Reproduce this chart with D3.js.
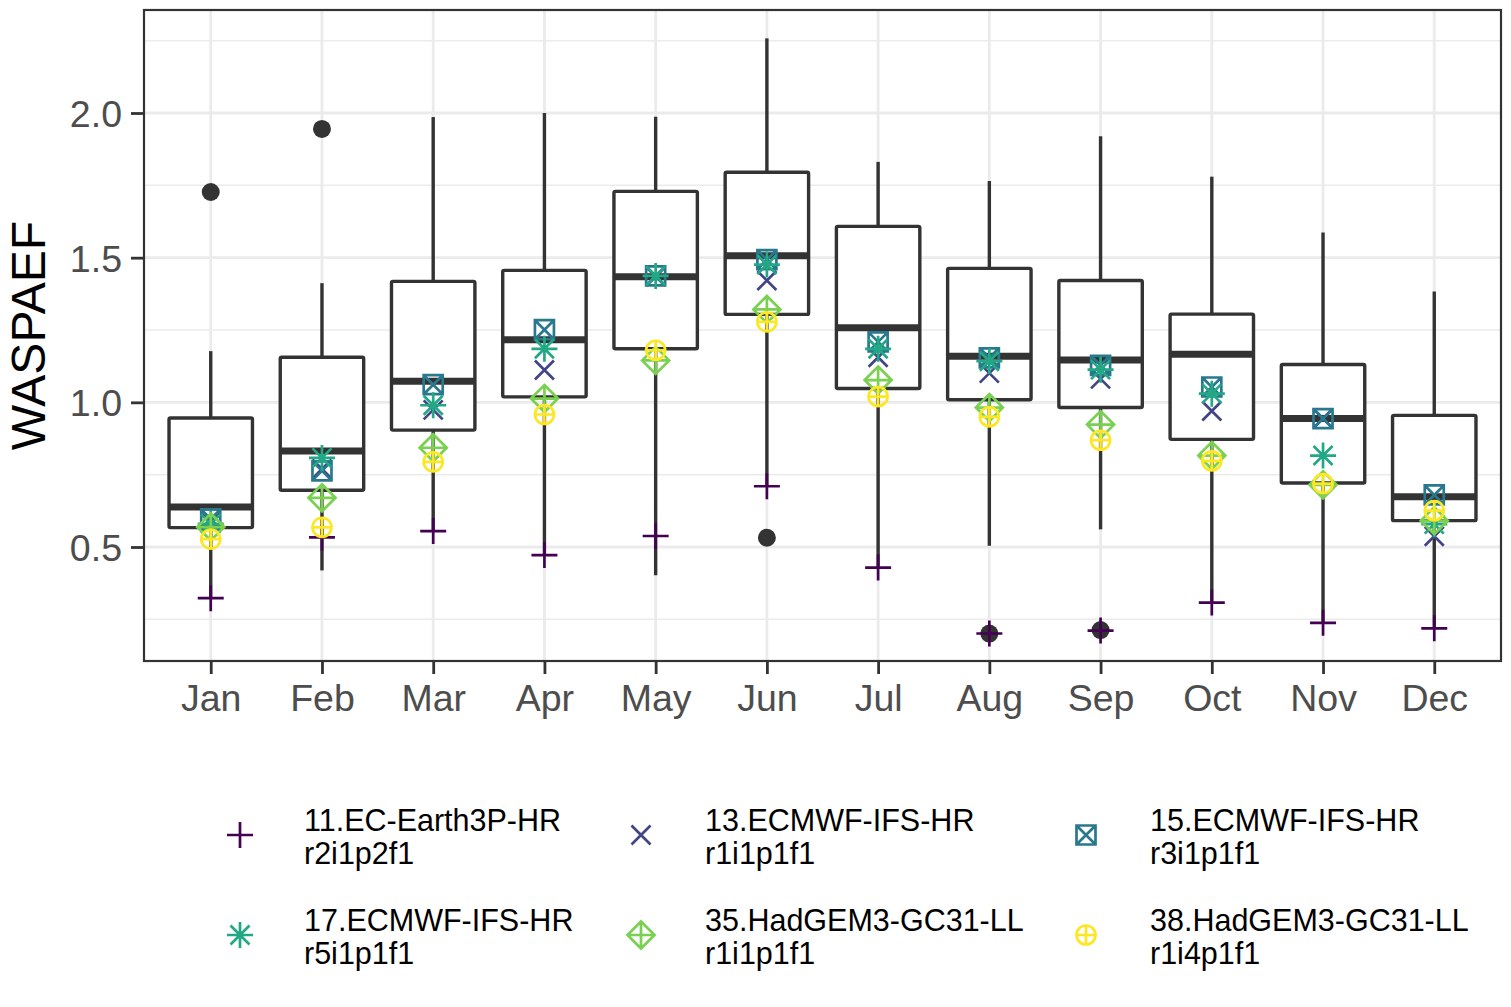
<!DOCTYPE html>
<html>
<head>
<meta charset="utf-8">
<script src="https://cdn.jsdelivr.net/npm/d3@7"></script>
<style>
  body { margin: 0; background: #fff; }
  text { font-family: "Liberation Sans", Arial, sans-serif; }
</style>
</head>
<body>
<div id="chart"></div>
<script>
// months on the x axis
const months = ['Jan', 'Feb', 'Mar', 'Apr', 'May', 'Jun', 'Jul', 'Aug', 'Sep', 'Oct', 'Nov', 'Dec'];

// boxplot statistics per month
const whiskerLow  = [0.323, 0.419, 0.555, 0.472, 0.402, 0.710, 0.429, 0.504, 0.561, 0.308, 0.238, 0.219];
const q1          = [0.567, 0.696, 0.904, 1.019, 1.185, 1.304, 1.048, 1.009, 0.982, 0.872, 0.721, 0.591];
const median      = [0.638, 0.832, 1.073, 1.216, 1.434, 1.507, 1.258, 1.159, 1.146, 1.166, 0.944, 0.674];
const q3          = [0.946, 1.156, 1.418, 1.456, 1.729, 1.795, 1.608, 1.463, 1.421, 1.305, 1.131, 0.955];
const whiskerHigh = [1.177, 1.412, 1.986, 2.000, 1.987, 2.258, 1.831, 1.765, 1.920, 1.780, 1.587, 1.383];

// outliers of the boxplot
const outlierMonths = ['Jan', 'Feb', 'Jun', 'Aug', 'Sep'];
const outlierValues = [1.727, 1.945, 0.532, 0.201, 0.213];

// model names (two lines) and values per month
const modelNames = [
  ['11.EC-Earth3P-HR', 'r2i1p2f1'],
  ['13.ECMWF-IFS-HR', 'r1i1p1f1'],
  ['15.ECMWF-IFS-HR', 'r3i1p1f1'],
  ['17.ECMWF-IFS-HR', 'r5i1p1f1'],
  ['35.HadGEM3-GC31-LL', 'r1i1p1f1'],
  ['38.HadGEM3-GC31-LL', 'r1i4p1f1']
];
const model11 = [0.323, 0.533, 0.555, 0.472, 0.538, 0.710, 0.429, 0.201, 0.211, 0.308, 0.238, 0.219];
const model13 = [0.585, 0.770, 0.974, 1.112, 1.435, 1.421, 1.156, 1.101, 1.081, 0.970, 0.944, 0.537];
const model15 = [0.597, 0.763, 1.061, 1.251, 1.437, 1.493, 1.209, 1.154, 1.128, 1.053, 0.944, 0.680];
const model17 = [0.580, 0.808, 0.990, 1.185, 1.437, 1.476, 1.185, 1.142, 1.113, 1.030, 0.816, 0.579];
const model35 = [0.569, 0.670, 0.843, 1.013, 1.145, 1.321, 1.077, 0.982, 0.923, 0.816, 0.715, 0.591];
const model38 = [0.527, 0.568, 0.794, 0.958, 1.180, 1.278, 1.020, 0.950, 0.869, 0.798, 0.719, 0.626];
const modelValues = [model11, model13, model15, model17, model35, model38];

const modelColors = ['#440154', '#414487', '#2A788E', '#22A884', '#7AD151', '#FDE725'];
const modelShapes = ['plus', 'cross', 'squareCross', 'asterisk', 'diamondPlus', 'circlePlus'];

const yTicks = [0.5, 1.0, 1.5, 2.0];
const yMinor = [0.25, 0.75, 1.25, 1.75, 2.25];

const width = 1511, height = 1007;
const margin = { top: 10, right: 10, bottom: 346, left: 144 };
const panelW = width - margin.left - margin.right;
const panelH = height - margin.top - margin.bottom;
const ink = '#333333';

const svg = d3.select('#chart').append('svg')
  .attr('width', width)
  .attr('height', height)
  .style('display', 'block');

svg.append('rect').attr('width', width).attr('height', height).attr('fill', '#fff');

const g = svg.append('g').attr('transform', `translate(${margin.left},${margin.top})`);

const xScale = d3.scalePoint().domain(months).range([0, panelW]).padding(0.6);
const yScale = d3.scaleLinear().domain([0.106, 2.356]).range([panelH, 0]);
const step = xScale.step();
const boxW = step * 0.75;

// grid
g.selectAll('.minor').data(yMinor).join('line')
  .attr('x1', 0).attr('x2', panelW)
  .attr('y1', d => yScale(d)).attr('y2', d => yScale(d))
  .attr('stroke', '#EBEBEB').attr('stroke-width', 1.5);
g.selectAll('.major').data(yTicks).join('line')
  .attr('x1', 0).attr('x2', panelW)
  .attr('y1', d => yScale(d)).attr('y2', d => yScale(d))
  .attr('stroke', '#EBEBEB').attr('stroke-width', 2.8);
g.selectAll('.vgrid').data(months).join('line')
  .attr('x1', d => xScale(d)).attr('x2', d => xScale(d))
  .attr('y1', 0).attr('y2', panelH)
  .attr('stroke', '#EBEBEB').attr('stroke-width', 2.8);

// boxplots
const boxes = g.selectAll('.box').data(months).join('g').attr('class', 'box');
boxes.append('line')
  .attr('x1', d => xScale(d)).attr('x2', d => xScale(d))
  .attr('y1', (d, i) => yScale(q3[i])).attr('y2', (d, i) => yScale(whiskerHigh[i]))
  .attr('stroke', ink).attr('stroke-width', 3.4);
boxes.append('line')
  .attr('x1', d => xScale(d)).attr('x2', d => xScale(d))
  .attr('y1', (d, i) => yScale(q1[i])).attr('y2', (d, i) => yScale(whiskerLow[i]))
  .attr('stroke', ink).attr('stroke-width', 3.4);
boxes.append('rect')
  .attr('x', d => xScale(d) - boxW / 2)
  .attr('width', boxW)
  .attr('y', (d, i) => yScale(q3[i]))
  .attr('height', (d, i) => yScale(q1[i]) - yScale(q3[i]))
  .attr('fill', '#fff').attr('stroke', ink).attr('stroke-width', 3.4)
  .attr('rx', 1.5);
boxes.append('line')
  .attr('x1', d => xScale(d) - boxW / 2).attr('x2', d => xScale(d) + boxW / 2)
  .attr('y1', (d, i) => yScale(median[i])).attr('y2', (d, i) => yScale(median[i]))
  .attr('stroke', ink).attr('stroke-width', 7);

g.selectAll('.outlier').data(outlierValues).join('circle')
  .attr('cx', (d, i) => xScale(outlierMonths[i]))
  .attr('cy', d => yScale(d))
  .attr('r', 9)
  .attr('fill', ink);

// point shapes (ggplot shapes 3, 4, 7, 8, 9, 10)
function shapePath(shape) {
  const plus = r => `M${-r},0H${r}M0,${-r}V${r}`;
  const cross = r => `M${-r},${-r}L${r},${r}M${-r},${r}L${r},${-r}`;
  if (shape === 'plus') return plus(13);
  if (shape === 'cross') return cross(9.5);
  if (shape === 'squareCross') return `M-9.5,-9.5H9.5V9.5H-9.5Z` + cross(9.5);
  if (shape === 'asterisk') return plus(13) + cross(9.5);
  if (shape === 'diamondPlus') return `M0,-13.5L13.5,0L0,13.5L-13.5,0Z` + plus(13.5);
  if (shape === 'circlePlus') return d3.arc()({ innerRadius: 0, outerRadius: 9.5, startAngle: 0, endAngle: 2 * Math.PI }).replace(/L0,0Z?$/, '') + plus(9.5);
}

function drawSymbol(sel, shape, color) {
  sel.append('path')
    .attr('d', shapePath(shape))
    .attr('fill', 'none')
    .attr('stroke', color)
    .attr('stroke-width', 2.7);
}

modelValues.forEach((vals, m) => {
  vals.forEach((v, i) => {
    const p = g.append('g').attr('transform', `translate(${xScale(months[i])},${yScale(v)})`);
    drawSymbol(p, modelShapes[m], modelColors[m]);
  });
});

// panel border
g.append('rect').attr('width', panelW).attr('height', panelH)
  .attr('fill', 'none').attr('stroke', ink).attr('stroke-width', 2.2);

// axes
const yAxis = g.append('g').call(d3.axisLeft(yScale).tickValues(yTicks).tickFormat(d3.format('.1f')).tickSize(13).tickPadding(9));
const xAxis = g.append('g').attr('transform', `translate(0,${panelH})`)
  .call(d3.axisBottom(xScale).tickSize(13).tickPadding(10));
[yAxis, xAxis].forEach(ax => {
  ax.select('.domain').remove();
  ax.selectAll('.tick line').attr('stroke', ink).attr('stroke-width', 2.8);
  ax.selectAll('.tick text')
    .attr('fill', '#4D4D4D')
    .style('font-family', '"Liberation Sans", Arial, sans-serif')
    .style('font-size', '37.5px');
});
yAxis.selectAll('.tick text').attr('dy', '0.36em');
xAxis.selectAll('.tick text').attr('dy', '0.72em');

svg.append('text')
  .attr('transform', `translate(45,${margin.top + panelH / 2}) rotate(-90)`)
  .attr('text-anchor', 'middle')
  .attr('fill', '#000')
  .style('font-size', '48px')
  .text('WASPAEF');

// legend: 3 columns, 2 rows
const legendCols = [240, 641, 1086];
const legendRows = [835, 935];
modelNames.forEach((name, m) => {
  const col = m % 3, row = Math.floor(m / 3);
  const item = svg.append('g').attr('transform', `translate(${legendCols[col]},${legendRows[row]})`);
  drawSymbol(item, modelShapes[m], modelColors[m]);
  item.selectAll('text').data(name).join('text')
    .attr('x', 64)
    .attr('y', (d, i) => -4 + i * 33)
    .attr('fill', '#000')
    .style('font-size', '30.5px')
    .text(d => d);
});
</script>
</body>
</html>
